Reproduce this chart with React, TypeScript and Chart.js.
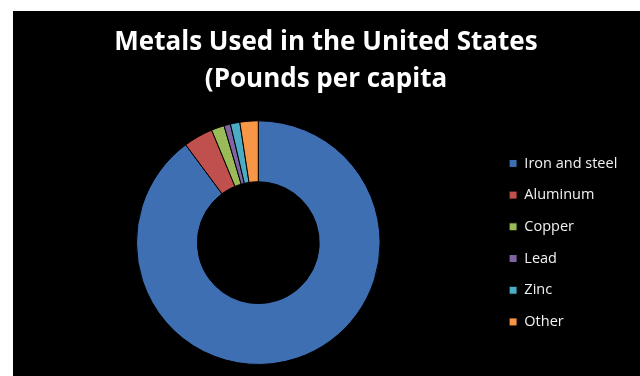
import React, { useEffect, useRef } from "react";
import { Chart, registerables } from "chart.js";

Chart.register(...registerables);

const titleLines = ["Metals Used in the United States", "(Pounds per capita"];
const categories = ["Iron and steel", "Aluminum", "Copper", "Lead", "Zinc", "Other"];
const values = [1150, 50, 22, 11, 16, 31];
const colors = ["#3D6FB2", "#C0504D", "#9BBB59", "#8064A2", "#4BACC6", "#F79646"];

export default function App() {
  const ref = useRef<HTMLCanvasElement | null>(null);
  useEffect(() => {
    if (!ref.current) return;
    const chart = new Chart(ref.current, {
      type: "doughnut",
      data: {
        labels: categories,
        datasets: [
          {
            data: values,
            backgroundColor: colors,
            borderColor: "#000000",
            borderWidth: 1,
          },
        ],
      },
      options: {
        animation: false,
        responsive: false,
        cutout: "50%",
        layout: { padding: { left: 11.7, right: 12.7, top: 0, bottom: 11 } },
        plugins: {
          tooltip: { enabled: false },
          title: {
            display: true,
            text: titleLines,
            color: "#ffffff",
            font: { family: "Open Sans", size: 26, weight: "bold", lineHeight: 1.42 },
            padding: { top: 13.5, bottom: 22 },
          },
          legend: {
            position: "right",
            fullSize: false,
            labels: {
              color: "#f2f2f2",
              boxWidth: 8,
              boxHeight: 8,
              padding: 17.2,
              font: { family: "Open Sans", size: 14.5 },
            },
          },
        },
      },
    });
    return () => chart.destroy();
  }, []);
  return (
    <div style={{ position: "fixed", left: 0, top: 0, width: 640, height: 376, background: "#ffffff" }}>
      <div style={{ position: "absolute", left: 13, top: 11, width: 627, height: 365, background: "#000000" }}>
        <canvas ref={ref} width={627} height={365} style={{ display: "block" }} />
      </div>
    </div>
  );
}
